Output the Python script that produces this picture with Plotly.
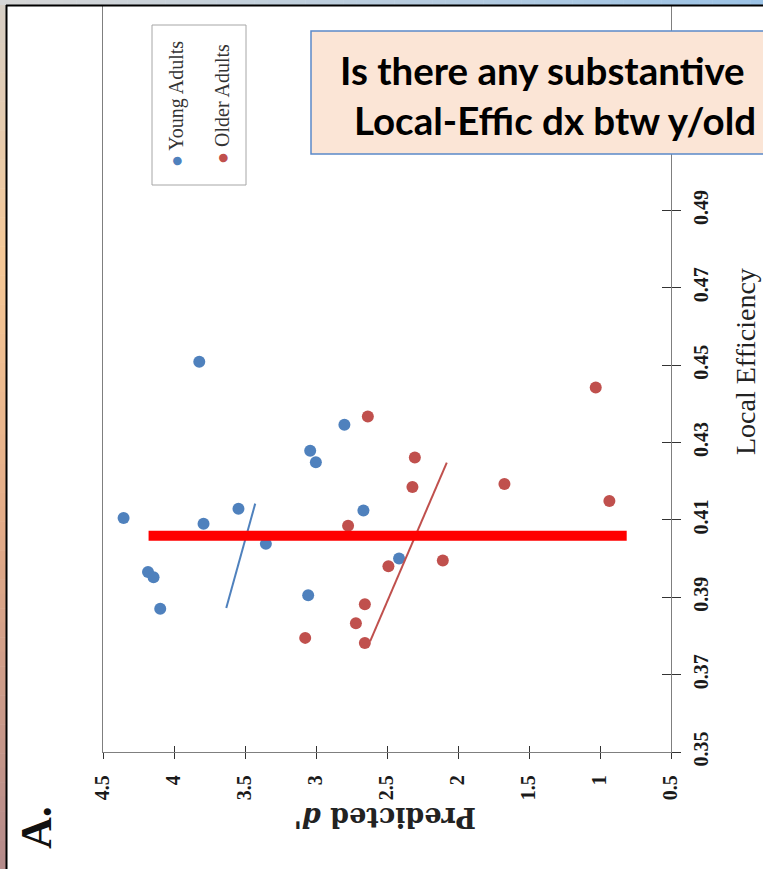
import plotly.graph_objects as go

# ---- data -------------------------------------------------------------
young_dprime = [4.355, 3.822, 3.792, 3.546, 3.353, 4.183, 4.144, 4.097,
                3.041, 3.001, 2.800, 2.666, 2.415, 3.055]
young_leff = [0.4105, 0.4509, 0.4090, 0.4129, 0.4038, 0.3965, 0.3952, 0.3870,
              0.4279, 0.4249, 0.4346, 0.4124, 0.4000, 0.3905]

older_dprime = [2.635, 1.030, 2.304, 2.321, 1.673, 0.934, 2.774, 2.490,
                2.107, 2.656, 2.719, 3.076, 2.656]
older_leff = [0.4367, 0.4442, 0.4261, 0.4185, 0.4193, 0.4149, 0.4085, 0.3980,
              0.3995, 0.3882, 0.3833, 0.3795, 0.3782]

# fitted lines (end points)
young_fit_dprime = [3.632, 3.428]
young_fit_leff = [0.3872, 0.4142]
older_fit_dprime = [2.619, 2.079]
older_fit_leff = [0.3786, 0.4248]

# highlighted reference level
ref_leff = 0.4059
ref_dprime_span = [4.179, 0.812]

dprime_ticks = [4.5, 4, 3.5, 3, 2.5, 2, 1.5, 1, 0.5]
dprime_labels = ["4.5", "4", "3.5", "3", "2.5", "2", "1.5", "1", "0.5"]
leff_ticks = [0.35, 0.37, 0.39, 0.41, 0.43, 0.45, 0.47, 0.49]
leff_labels = ["0.35", "0.37", "0.39", "0.41", "0.43", "0.45", "0.47", "0.49"]

BLUE = "#4f81bd"
RED = "#c0504d"
AXIS = "#7f7f7f"
SERIF = "Liberation Serif"

W, H = 763, 869
ML, MR, MT, MB = 103, 92, 6, 117
PW, PH = W - ML - MR, H - MT - MB


def px(x):
    return (x - ML) / PW


def py(y):
    return (H - MB - y) / PH


fig = go.Figure()

fig.add_trace(go.Scatter(x=young_dprime, y=young_leff, mode="markers",
                         marker=dict(color=BLUE, size=12), showlegend=False))
fig.add_trace(go.Scatter(x=older_dprime, y=older_leff, mode="markers",
                         marker=dict(color=RED, size=12), showlegend=False))
fig.add_trace(go.Scatter(x=young_fit_dprime, y=young_fit_leff, mode="lines",
                         line=dict(color=BLUE, width=2), showlegend=False))
fig.add_trace(go.Scatter(x=older_fit_dprime, y=older_fit_leff, mode="lines",
                         line=dict(color=RED, width=2), showlegend=False))
# carrier for the inward tick marks
fig.add_trace(go.Scatter(x=[None], y=[None], xaxis="x2", yaxis="y2",
                         showlegend=False))

x_range = [4.5, 0.5]
y_top = 0.35 + PH * 0.14 / 541.6
y_range = [0.35, y_top]

tickfont = dict(family=SERIF, size=20, color="#1a1a1a", weight="bold")
fig.update_layout(
    width=W, height=H,
    margin=dict(l=ML, r=MR, t=MT, b=MB),
    paper_bgcolor="white", plot_bgcolor="white",
    showlegend=False,
    xaxis=dict(range=x_range, tickvals=dprime_ticks, ticktext=dprime_labels,
               tickangle=-90, ticks="outside", ticklen=6, tickcolor="#333",
               tickwidth=1.2, showline=True, linecolor=AXIS, linewidth=1.3,
               showgrid=False, zeroline=False, tickfont=tickfont,
               ticklabelstandoff=8),
    yaxis=dict(range=y_range, tickvals=leff_ticks, ticktext=leff_labels,
               side="right", tickangle=-90, ticks="outside", ticklen=9,
               tickcolor="#333", tickwidth=1.2, showline=True, mirror=True,
               linecolor=AXIS, linewidth=1.3, showgrid=False, zeroline=False,
               tickfont=tickfont, ticklabelstandoff=3),
    xaxis2=dict(range=x_range, tickvals=dprime_ticks, overlaying="x",
                ticks="inside", ticklen=6, tickcolor="#333", tickwidth=1.2,
                showticklabels=False, showgrid=False, zeroline=False,
                showline=False, side="bottom", anchor="y"),
    yaxis2=dict(range=y_range, tickvals=leff_ticks, overlaying="y",
                side="right", ticks="inside", ticklen=9, tickcolor="#333",
                tickwidth=1.2, showticklabels=False, showgrid=False,
                zeroline=False, showline=False, anchor="x"),
)

shapes = []

# frame: gradient strips on the left and top edges
left_stops = [(0, (214, 207, 198)), (260, (246, 200, 150)),
              (520, (228, 172, 136)), (869, (180, 138, 138))]
top_stops = [(0, (214, 214, 214)), (763, (156, 195, 230))]


def interp(stops, t):
    for (a, ca), (b, cb) in zip(stops, stops[1:]):
        if a <= t <= b:
            f = (t - a) / (b - a)
            return "rgb(%d,%d,%d)" % tuple(round(ca[i] + f * (cb[i] - ca[i])) for i in range(3))
    return "rgb(%d,%d,%d)" % stops[-1][1]


n = 60
for i in range(n):
    y0 = H * i / n
    y1 = H * (i + 1) / n
    shapes.append(dict(type="rect", xref="paper", yref="paper",
                       x0=px(0), x1=px(6), y0=py(y1 + 0.5), y1=py(y0),
                       fillcolor=interp(left_stops, (y0 + y1) / 2),
                       line=dict(width=0), layer="above"))
for i in range(n):
    x0 = W * i / n
    x1 = W * (i + 1) / n
    shapes.append(dict(type="rect", xref="paper", yref="paper",
                       x0=px(x0), x1=px(x1 + 0.5), y0=py(5), y1=py(0),
                       fillcolor=interp(top_stops, (x0 + x1) / 2),
                       line=dict(width=0), layer="above"))
shapes.append(dict(type="line", xref="paper", yref="paper",
                   x0=px(6.5), x1=px(6.5), y0=py(H), y1=py(5),
                   line=dict(color="black", width=2), layer="above"))
shapes.append(dict(type="line", xref="paper", yref="paper",
                   x0=px(6), x1=px(W), y0=py(5.5), y1=py(5.5),
                   line=dict(color="black", width=2), layer="above"))

# legend box
shapes.append(dict(type="rect", xref="paper", yref="paper",
                   x0=px(152), x1=px(246), y0=py(185), y1=py(25),
                   line=dict(color="#a6a6a6", width=1), fillcolor="white"))

# reference level bar
shapes.append(dict(type="line", xref="x", yref="y",
                   x0=ref_dprime_span[0], x1=ref_dprime_span[1],
                   y0=ref_leff, y1=ref_leff,
                   line=dict(color="#ff0000", width=10), layer="above"))

# question box
shapes.append(dict(type="rect", xref="paper", yref="paper",
                   x0=px(311), x1=px(820), y0=py(154), y1=py(31),
                   fillcolor="#fbe5d6", line=dict(color="#5b89c9", width=1.5),
                   layer="above"))

fig.update_layout(shapes=shapes)

annotations = [
    dict(text="Local Efficiency", x=px(745), y=py(362), textangle=-90,
         font=dict(family=SERIF, size=28, color="#222")),
    dict(text="Predicted <i>d'</i>", x=px(385), y=py(818), textangle=180,
         font=dict(family="DejaVu Serif", size=27, color="#222", weight="bold")),
    dict(text="A.", x=px(36), y=py(828), textangle=-90,
         font=dict(family=SERIF, size=44, color="#111", weight="bold")),
    dict(text="<span style='color:%s'>●</span> Young Adults" % BLUE,
         x=px(177), y=py(104), textangle=-90,
         font=dict(family=SERIF, size=20, color="#333")),
    dict(text="<span style='color:%s'>●</span> Older Adults" % RED,
         x=px(222), y=py(104), textangle=-90,
         font=dict(family=SERIF, size=20, color="#333")),
    dict(text="<b>Is there any substantive</b>", x=px(338), y=py(70),
         xanchor="left", font=dict(family="Lato", size=38.5, color="black")),
    dict(text="<b>Local-Effic dx btw y/old</b>", x=px(352), y=py(120),
         xanchor="left", font=dict(family="Lato", size=38.5, color="black")),
]
for a in annotations:
    a.setdefault("xref", "paper")
    a.setdefault("yref", "paper")
    a.setdefault("showarrow", False)
    a.setdefault("xanchor", "center")
    a.setdefault("yanchor", "middle")
fig.update_layout(annotations=annotations)

fig.write_html("out.html")
